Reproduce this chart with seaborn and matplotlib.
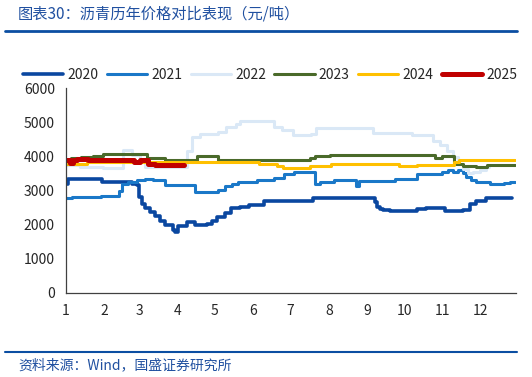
import matplotlib
matplotlib.use('Agg')
import matplotlib.pyplot as plt
import seaborn as sns
from matplotlib.lines import Line2D

# 数据：每段价格起始的日序号（年内第几天）及对应价格（元/吨）
days_2020 = [0, 2, 29, 53, 57, 59, 61, 64, 68, 72, 76, 80, 86, 88, 90, 95, 98, 104, 114, 118,
             122, 128, 133, 140, 148, 160, 165, 199, 249, 251, 253, 256, 261, 283, 290, 306,
             320, 326, 331, 339, 347, 360]
price_2020 = [3200, 3340, 3260, 3200, 3150, 2800, 2600, 2480, 2380, 2250, 2100, 1980, 1850, 1800,
              1950, 1970, 2090, 2000, 2030, 2100, 2230, 2350, 2480, 2530, 2580, 2690, 2700, 2790,
              2650, 2520, 2450, 2420, 2400, 2450, 2500, 2400, 2430, 2600, 2700, 2790, 2790, 2790]

days_2021 = [0, 5, 28, 43, 45, 50, 57, 64, 70, 80, 104, 123, 128, 134, 139, 154, 168, 176, 184,
             201, 205, 216, 234, 236, 265, 283, 303, 308, 312, 316, 320, 323, 327, 331, 342, 353,
             358, 362]
price_2021 = [2780, 2820, 2850, 3000, 3180, 3240, 3300, 3350, 3300, 3170, 2950, 3020, 3120, 3200,
              3240, 3310, 3370, 3490, 3540, 3180, 3240, 3300, 3120, 3270, 3345, 3470, 3540, 3590,
              3540, 3590, 3500, 3390, 3300, 3245, 3180, 3220, 3260, 3260]

days_2022 = [0, 11, 30, 46, 53, 60, 64, 98, 102, 108, 123, 129, 137, 140, 168, 174, 183, 198,
             202, 248, 279, 296, 302, 307, 312, 316, 320, 324, 328, 334, 339, 341]
price_2022 = [3750, 3690, 3650, 4190, 4030, 3880, 3700, 4170, 4560, 4660, 4710, 4850, 4950, 5030,
              4850, 4760, 4610, 4660, 4830, 4690, 4610, 4460, 4320, 4170, 3980, 3780, 3640, 3510,
              3540, 3590, 3680, 3680]

days_2023 = [0, 4, 12, 22, 30, 65, 80, 106, 123, 197, 201, 213, 298, 303, 313, 320, 331, 340, 362]
price_2023 = [3880, 3950, 3980, 4020, 4055, 3950, 3880, 4010, 3890, 3960, 4000, 4046, 3960, 4000,
              3780, 3730, 3700, 3750, 3750]

days_2024 = [0, 17, 156, 170, 175, 197, 214, 269, 283, 313, 317, 362]
price_2024 = [3780, 3830, 3780, 3720, 3670, 3730, 3780, 3725, 3735, 3830, 3880, 3880]

days_2025 = [0, 3, 6, 9, 18, 55, 60, 66, 72, 95]
price_2025 = [3900, 3800, 3880, 3930, 3880, 3830, 3880, 3790, 3740, 3740]

month_starts = [0, 31, 59, 90, 120, 151, 181, 212, 243, 273, 304, 334]
month_labels = ['1', '2', '3', '4', '5', '6', '7', '8', '9', '10', '11', '12']

series = [
    ('2020', days_2020, price_2020, '#0A47A0', 2.6),
    ('2021', days_2021, price_2021, '#1A78C8', 2.2),
    ('2022', days_2022, price_2022, '#DAE8F6', 2.2),
    ('2023', days_2023, price_2023, '#4A6A2A', 2.2),
    ('2024', days_2024, price_2024, '#FFC000', 2.2),
    ('2025', days_2025, price_2025, '#C00000', 3.6),
]

sns.set_style('white')
plt.rcParams['font.family'] = ['Noto Sans CJK SC', 'DejaVu Sans']

fig = plt.figure(figsize=(5.32, 3.77), dpi=100)
ax = fig.add_axes([66 / 532, 1 - 293 / 377, (516 - 66) / 532, (293 - 88) / 377])

for name, d, p, c, lw in series:
    sns.lineplot(x=d, y=p, ax=ax, color=c, linewidth=lw, drawstyle='steps-post', label=name)

ax.set_xlim(0, 363)
ax.set_ylim(0, 6000)
ax.set_yticks(range(0, 6001, 1000))
ax.set_xticks(month_starts)
ax.set_xticklabels(month_labels)
ax.tick_params(axis='both', labelsize=10, length=4, width=0.8, color='#404040', direction='out')
ax.tick_params(axis='x', pad=4)
ax.tick_params(axis='y', pad=4)
for s in ['top', 'right']:
    ax.spines[s].set_visible(False)
for s in ['left', 'bottom']:
    ax.spines[s].set_color('#404040')
    ax.spines[s].set_linewidth(0.9)

ax.legend(loc='center', bbox_to_anchor=(270 / 532, 1 - 75 / 377), bbox_transform=fig.transFigure,
          ncol=6, frameon=False, fontsize=10, handlelength=2.9, handletextpad=0.3,
          columnspacing=0.6, borderaxespad=0)

# 标题与来源
fig.text(18 / 532, 1 - 14 / 377, '图表30：沥青历年价格对比表现（元/吨）', ha='left', va='center',
         fontsize=11, color='#2050A0', style='italic')
fig.add_artist(Line2D([5 / 532, 517 / 532], [1 - 31 / 377] * 2, color='#0B4EA2', lw=2))
fig.add_artist(Line2D([5 / 532, 517 / 532], [1 - 352 / 377] * 2, color='#0B4EA2', lw=1.5))
fig.text(18 / 532, 1 - 365 / 377, '资料来源：Wind，国盛证券研究所', ha='left', va='center',
         fontsize=10, color='#2050A0', style='italic')

fig.savefig('out.png', dpi=100)
